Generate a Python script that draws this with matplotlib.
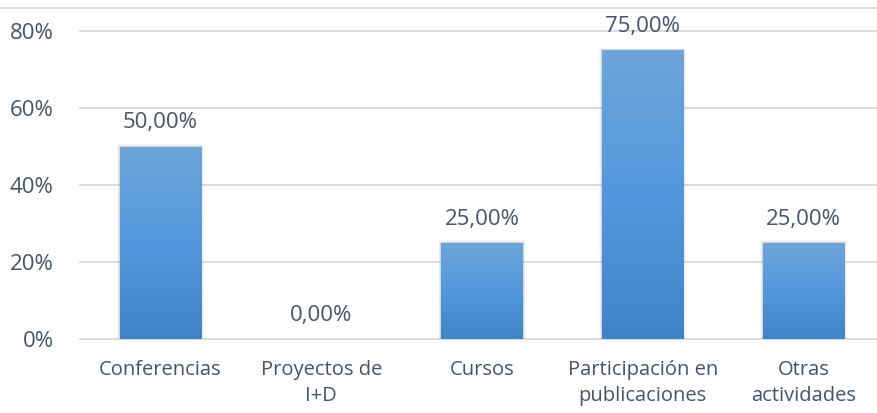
import numpy as np
import matplotlib
matplotlib.use("Agg")
import matplotlib.pyplot as plt
from matplotlib.lines import Line2D
from matplotlib.patches import Rectangle
from matplotlib.colors import LinearSegmentedColormap

# Data
categories = ["Conferencias", "Proyectos de\nI+D", "Cursos",
              "Participación en\npublicaciones", "Otras\nactividades"]
values = [0.50, 0.00, 0.25, 0.75, 0.25]
value_labels = ["50,00%", "0,00%", "25,00%", "75,00%", "25,00%"]
yticks = [0.0, 0.2, 0.4, 0.6, 0.8]
ytick_labels = ["0%", "20%", "40%", "60%", "80%"]

text_color = "#44546a"
grid_color = "#d9d9d9"
plt.rcParams["font.family"] = ["Open Sans", "DejaVu Sans"]

W, H = 877, 413
fig = plt.figure(figsize=(W / 100, H / 100), dpi=100)
# axes in pixel coords: left 80, right ~884, bottom y=339, top y=31
left, right, ybot, ytop = 80, 884, 339, 31
ax = fig.add_axes([left / W, (H - ybot) / H, (right - left) / W, (ybot - ytop) / H])

x = np.arange(len(categories))
bar_w = 0.505

for yv in yticks:
    ax.axhline(yv, color=grid_color, lw=1.3, zorder=1, clip_on=False)

cmap = LinearSegmentedColormap.from_list("bar", ["#4184c6", "#5398dc", "#6ea5da"])
grad = np.linspace(0, 1, 256).reshape(-1, 1)
for xi, v in zip(x, values):
    if v <= 0:
        continue
    # soft shadow
    for k, a in enumerate([0.12, 0.07, 0.03]):
        d = 0.006 * (k + 1)
        sh = Rectangle((xi - bar_w / 2 - d, 0), bar_w + 2 * d, v + 0.002 * (k + 1),
                       facecolor="#444444", alpha=a, lw=0, zorder=2)
        ax.add_patch(sh)
    rect = Rectangle((xi - bar_w / 2, 0), bar_w, v, facecolor="none", lw=0, zorder=3)
    ax.add_patch(rect)
    im = ax.imshow(grad, cmap=cmap, aspect="auto", origin="lower",
                   extent=(xi - bar_w / 2, xi + bar_w / 2, 0, v), zorder=3,
                   vmin=0, vmax=1)
    im.set_clip_path(rect)

ax.set_xlim(-0.5, len(categories) - 0.5)
ax.set_ylim(0, 0.8)

for xi, v, lab in zip(x, values, value_labels):
    ax.annotate(lab, (xi, v), xytext=(0, 17), textcoords="offset points",
                ha="center", va="center", fontsize=16, color=text_color, zorder=5)

ax.set_xticks(x)
ax.set_xticklabels(categories, fontsize=14.5, color=text_color, linespacing=1.38)
ax.set_yticks(yticks)
ax.set_yticklabels(ytick_labels, fontsize=16, color=text_color)
ax.tick_params(axis="both", length=0)
ax.tick_params(axis="x", pad=15)
ax.tick_params(axis="y", pad=19)
for s in ax.spines.values():
    s.set_visible(False)

# top border line of the chart area
fig.add_artist(Line2D([0, 1], [(H - 8) / H, (H - 8) / H], color=grid_color, lw=1.3))

fig.savefig("out.png", dpi=100)
